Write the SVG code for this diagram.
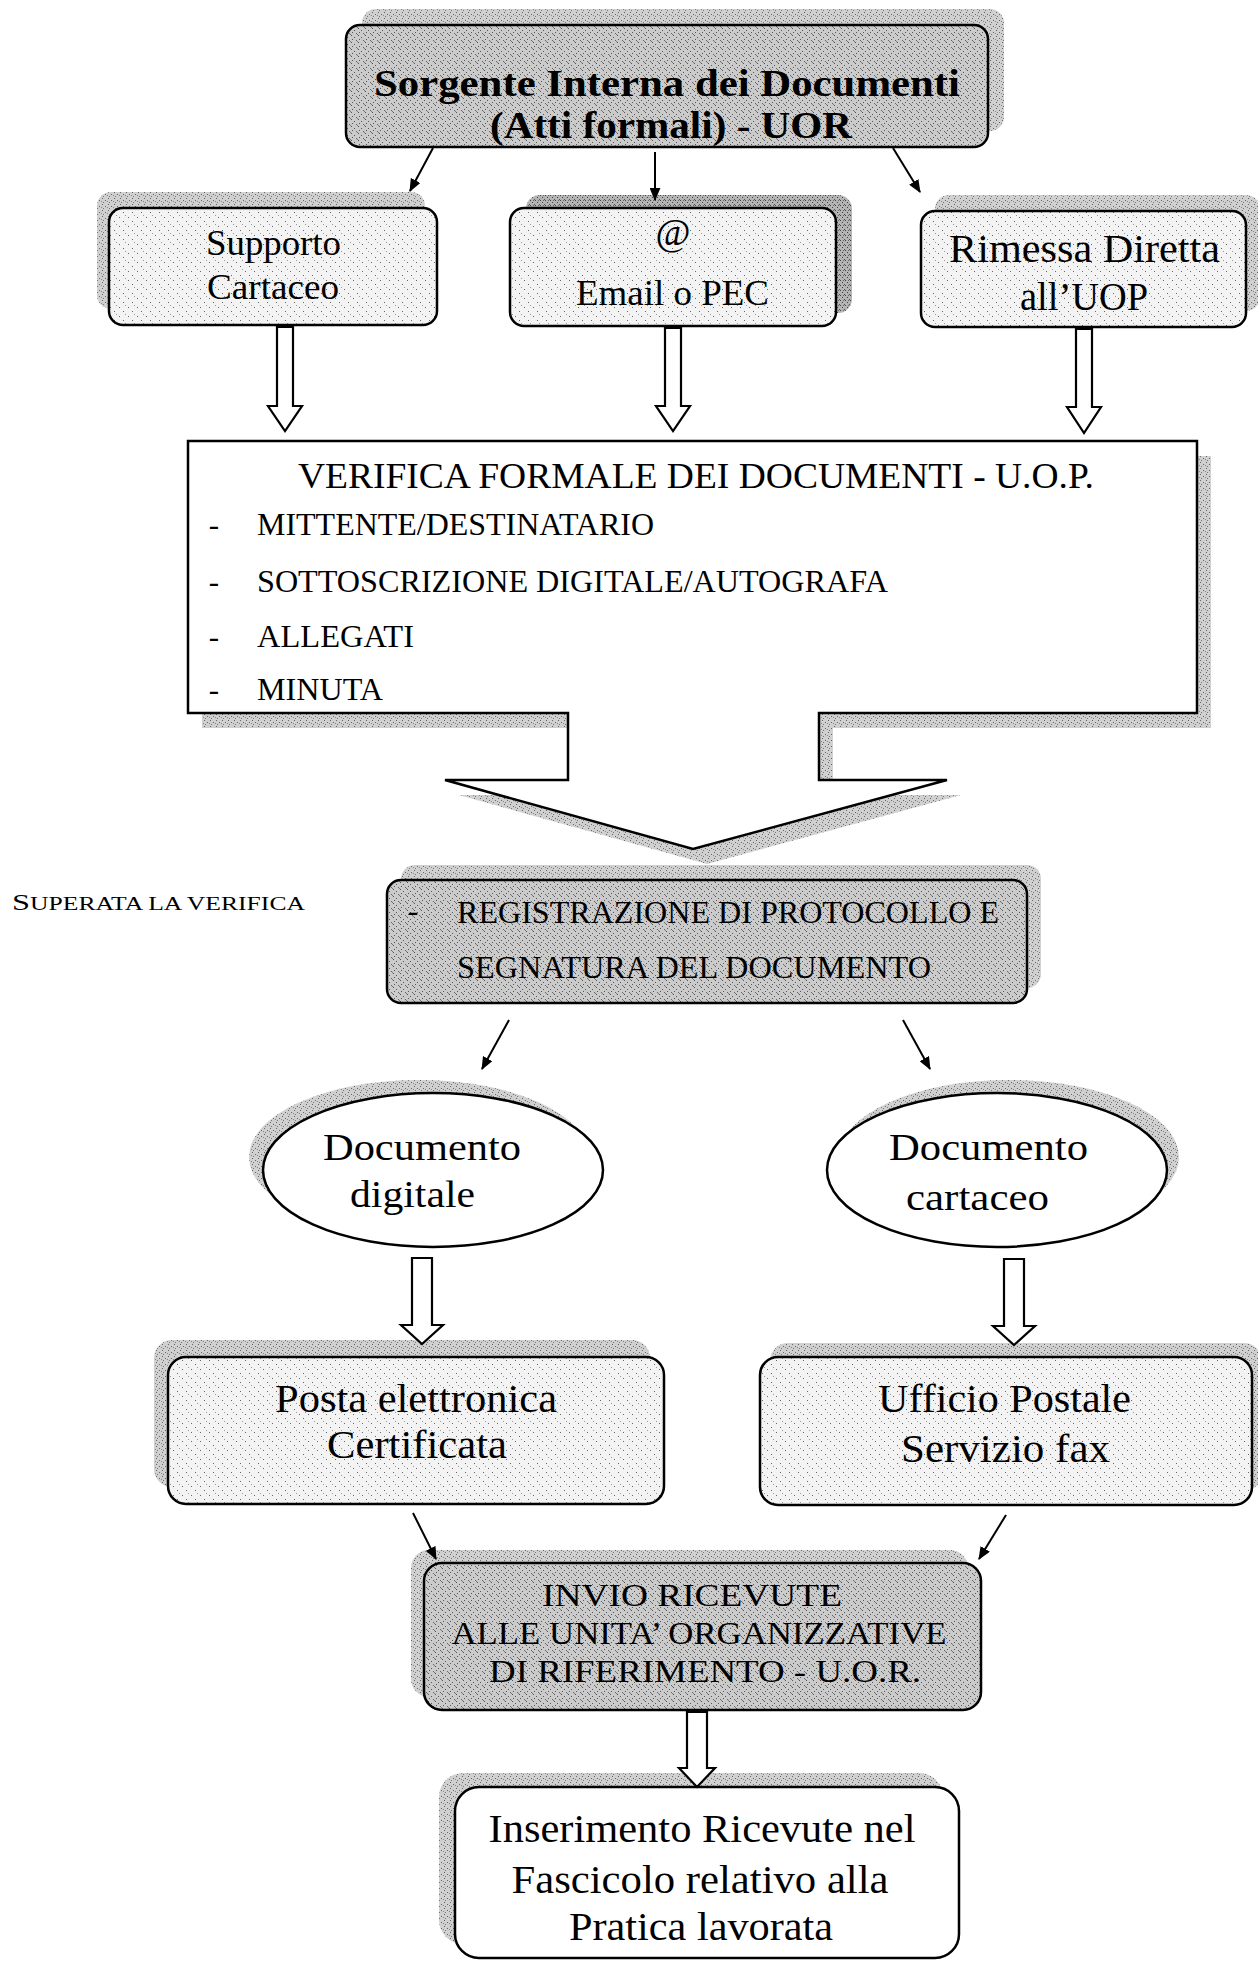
<svg xmlns="http://www.w3.org/2000/svg" width="1258" height="1967" viewBox="0 0 1258 1967">
<style>
.t{font-family:"Liberation Serif","Times New Roman",serif;fill:#000}
.b{font-weight:bold}
.box{stroke:#000;stroke-width:2.5}
.blk{fill:#fff;stroke:#000;stroke-width:2.2;stroke-linejoin:miter}
.ln{stroke:#000;stroke-width:2;fill:none;marker-end:url(#ah)}
</style>
<defs>
<pattern id="pd" width="7" height="7" patternUnits="userSpaceOnUse">
<rect width="7" height="7" fill="#cbcbcb"/>
<rect x="1" y="0" width="1" height="1" fill="#555"/>
<rect x="4" y="2" width="1" height="1" fill="#555"/>
<rect x="2" y="4" width="1" height="1" fill="#555"/>
<rect x="6" y="5" width="1" height="1" fill="#666"/>
<rect x="0" y="6" width="1" height="1" fill="#777"/>
</pattern>
<pattern id="ps" width="6" height="6" patternUnits="userSpaceOnUse">
<rect width="6" height="6" fill="#d0d0d0"/>
<rect x="0" y="0" width="1" height="1" fill="#666"/>
<rect x="3" y="2" width="1" height="1" fill="#666"/>
<rect x="1" y="4" width="1" height="1" fill="#777"/>
<rect x="5" y="3" width="1" height="1" fill="#888"/>
</pattern>
<pattern id="psd" width="5" height="5" patternUnits="userSpaceOnUse">
<rect width="5" height="5" fill="#b4b4b4"/>
<rect x="0" y="0" width="1" height="1" fill="#444"/>
<rect x="2" y="2" width="1" height="1" fill="#444"/>
<rect x="4" y="4" width="1" height="1" fill="#555"/>
<rect x="3" y="0" width="1" height="1" fill="#666"/>
</pattern>
<pattern id="pl" width="9" height="9" patternUnits="userSpaceOnUse">
<rect width="9" height="9" fill="#f3f3f3"/>
<rect x="2" y="1" width="1" height="1" fill="#666"/>
<rect x="6" y="5" width="1" height="1" fill="#666"/>
<rect x="8" y="8" width="1" height="1" fill="#999"/>
</pattern>
<marker id="ah" viewBox="0 0 12 10" refX="11" refY="5" markerWidth="13" markerHeight="11" markerUnits="userSpaceOnUse" orient="auto">
<path d="M0,0 L12,5 L0,10 z" fill="#000"/>
</marker>
</defs>

<g id="n-sorgente">
<rect x="362" y="9" width="642" height="122" rx="14" fill="url(#ps)"/>
<rect class="box" x="346" y="25" width="642" height="122" rx="14" fill="url(#pd)"/>
<text class="t b" x="667" y="96" font-size="38" text-anchor="middle" textLength="586" lengthAdjust="spacingAndGlyphs">Sorgente Interna dei Documenti</text>
<text class="t b" x="671" y="138" font-size="38" text-anchor="middle" textLength="362" lengthAdjust="spacingAndGlyphs">(Atti formali) - UOR</text>
</g>

<g id="n-supporto">
<rect x="97" y="192" width="328" height="117" rx="14" fill="url(#ps)"/>
<rect class="box" x="109" y="208" width="328" height="117" rx="14" fill="url(#pl)"/>
<text class="t" x="273.5" y="255" font-size="36" text-anchor="middle" textLength="135" lengthAdjust="spacingAndGlyphs">Supporto</text>
<text class="t" x="273" y="299" font-size="36" text-anchor="middle" textLength="132" lengthAdjust="spacingAndGlyphs">Cartaceo</text>
</g>

<g id="n-email">
<rect x="526" y="195" width="326" height="118" rx="14" fill="url(#psd)"/>
<rect class="box" x="510" y="208" width="326" height="118" rx="14" fill="url(#pl)"/>
<text class="t" x="673" y="245" font-size="38" text-anchor="middle">@</text>
<text class="t" x="672.5" y="305" font-size="36" text-anchor="middle" textLength="193" lengthAdjust="spacingAndGlyphs">Email o PEC</text>
</g>

<g id="n-rimessa">
<rect x="935" y="195" width="325" height="116" rx="14" fill="url(#ps)"/>
<rect class="box" x="921" y="211" width="325" height="116" rx="14" fill="url(#pl)"/>
<text class="t" x="1084.5" y="262" font-size="40" text-anchor="middle" textLength="271" lengthAdjust="spacingAndGlyphs">Rimessa Diretta</text>
<text class="t" x="1084" y="310" font-size="40" text-anchor="middle" textLength="128" lengthAdjust="spacingAndGlyphs">all’UOP</text>
</g>

<g id="n-verifica">
<path d="M202,456 H1211 V728 H833 V795 H961 L707,864 L459,795 H582 V728 H202 Z" fill="url(#ps)"/>
<path class="box" d="M188,441 H1197 V713 H819 V780 H947 L693,849 L445,780 H568 V713 H188 Z" fill="#fff"/>
<text class="t" x="696" y="488" font-size="36" text-anchor="middle" textLength="796" lengthAdjust="spacingAndGlyphs">VERIFICA FORMALE DEI DOCUMENTI - U.O.P.</text>
<text class="t" x="214" y="535" font-size="31" text-anchor="middle">-</text>
<text class="t" x="257" y="535" font-size="31" textLength="397" lengthAdjust="spacingAndGlyphs">MITTENTE/DESTINATARIO</text>
<text class="t" x="214" y="592" font-size="31" text-anchor="middle">-</text>
<text class="t" x="257" y="592" font-size="31" textLength="631" lengthAdjust="spacingAndGlyphs">SOTTOSCRIZIONE DIGITALE/AUTOGRAFA</text>
<text class="t" x="214" y="647" font-size="31" text-anchor="middle">-</text>
<text class="t" x="257" y="647" font-size="31" textLength="157" lengthAdjust="spacingAndGlyphs">ALLEGATI</text>
<text class="t" x="214" y="700" font-size="31" text-anchor="middle">-</text>
<text class="t" x="257" y="700" font-size="31" textLength="126" lengthAdjust="spacingAndGlyphs">MINUTA</text>
</g>

<g id="n-superata">
<text class="t" x="12" y="910" font-size="19" textLength="293" lengthAdjust="spacingAndGlyphs"><tspan font-size="24">S</tspan>UPERATA LA VERIFICA</text>
</g>

<g id="n-registrazione">
<rect x="401" y="865" width="640" height="123" rx="14" fill="url(#ps)"/>
<rect class="box" x="387" y="880" width="640" height="123" rx="14" fill="url(#pd)"/>
<text class="t" x="413" y="921" font-size="32" text-anchor="middle">-</text>
<text class="t" x="457" y="923" font-size="32" textLength="542" lengthAdjust="spacingAndGlyphs">REGISTRAZIONE DI PROTOCOLLO E</text>
<text class="t" x="457" y="978" font-size="32" textLength="474" lengthAdjust="spacingAndGlyphs">SEGNATURA DEL DOCUMENTO</text>
</g>

<g id="n-digitale">
<ellipse cx="419" cy="1157" rx="170" ry="77" fill="url(#ps)"/>
<ellipse class="box" cx="433" cy="1170" rx="170" ry="77" fill="#fff"/>
<text class="t" x="422" y="1160" font-size="38" text-anchor="middle" textLength="198" lengthAdjust="spacingAndGlyphs">Documento</text>
<text class="t" x="412.5" y="1207" font-size="38" text-anchor="middle" textLength="125" lengthAdjust="spacingAndGlyphs">digitale</text>
</g>

<g id="n-cartaceo">
<ellipse cx="1009" cy="1157" rx="170" ry="77" fill="url(#ps)"/>
<ellipse class="box" cx="997" cy="1170" rx="170" ry="77" fill="#fff"/>
<text class="t" x="988.5" y="1160" font-size="38" text-anchor="middle" textLength="199" lengthAdjust="spacingAndGlyphs">Documento</text>
<text class="t" x="977.5" y="1210" font-size="38" text-anchor="middle" textLength="143" lengthAdjust="spacingAndGlyphs">cartaceo</text>
</g>

<g id="n-posta">
<rect x="154" y="1340" width="496" height="147" rx="18" fill="url(#ps)"/>
<rect class="box" x="168" y="1357" width="496" height="147" rx="18" fill="url(#pl)"/>
<text class="t" x="416" y="1412" font-size="40" text-anchor="middle" textLength="282" lengthAdjust="spacingAndGlyphs">Posta elettronica</text>
<text class="t" x="417" y="1458" font-size="40" text-anchor="middle" textLength="180" lengthAdjust="spacingAndGlyphs">Certificata</text>
</g>

<g id="n-ufficio">
<rect x="770" y="1343" width="492" height="148" rx="18" fill="url(#ps)"/>
<rect class="box" x="760" y="1357" width="492" height="148" rx="18" fill="url(#pl)"/>
<text class="t" x="1004.5" y="1412" font-size="40" text-anchor="middle" textLength="253" lengthAdjust="spacingAndGlyphs">Ufficio Postale</text>
<text class="t" x="1005.5" y="1462" font-size="40" text-anchor="middle" textLength="209" lengthAdjust="spacingAndGlyphs">Servizio fax</text>
</g>

<g id="n-invio">
<rect x="411" y="1550" width="557" height="147" rx="18" fill="url(#ps)"/>
<rect class="box" x="424" y="1563" width="557" height="147" rx="18" fill="url(#pd)"/>
<text class="t" x="692" y="1606" font-size="32" text-anchor="middle" textLength="300" lengthAdjust="spacingAndGlyphs">INVIO RICEVUTE</text>
<text class="t" x="699" y="1644" font-size="32" text-anchor="middle" textLength="495" lengthAdjust="spacingAndGlyphs">ALLE UNITA’ ORGANIZZATIVE</text>
<text class="t" x="705" y="1682" font-size="32" text-anchor="middle" textLength="432" lengthAdjust="spacingAndGlyphs">DI RIFERIMENTO - U.O.R.</text>
</g>

<g id="n-inserimento">
<rect x="439" y="1773" width="504" height="171" rx="24" fill="url(#ps)"/>
<rect class="box" x="455" y="1787" width="504" height="171" rx="24" fill="#fff"/>
<text class="t" x="702" y="1842" font-size="40" text-anchor="middle" textLength="427" lengthAdjust="spacingAndGlyphs">Inserimento Ricevute nel</text>
<text class="t" x="700" y="1893" font-size="40" text-anchor="middle" textLength="377" lengthAdjust="spacingAndGlyphs">Fascicolo relativo alla</text>
<text class="t" x="701" y="1940" font-size="40" text-anchor="middle" textLength="264" lengthAdjust="spacingAndGlyphs">Pratica lavorata</text>
</g>

<g id="connectors">
<line class="ln" x1="433" y1="148" x2="410" y2="191"/>
<line class="ln" x1="655" y1="152" x2="655" y2="200"/>
<line class="ln" x1="893" y1="148" x2="920" y2="192"/>
<polygon class="blk" points="277,327 293,327 293,406 302,406 285,431 268,406 277,406"/>
<polygon class="blk" points="665,328 681,328 681,406 690,406 673,431 656,406 665,406"/>
<polygon class="blk" points="1076,329 1092,329 1092,407 1101,407 1084,433 1067,407 1076,407"/>
<line class="ln" x1="509" y1="1020" x2="482" y2="1069"/>
<line class="ln" x1="903" y1="1020" x2="930" y2="1069"/>
<polygon class="blk" points="412,1258 432,1258 432,1325 443,1325 422,1344 401,1325 412,1325"/>
<polygon class="blk" points="1004,1259 1024,1259 1024,1326 1035,1326 1014,1345 993,1326 1004,1326"/>
<line class="ln" x1="413" y1="1513" x2="436" y2="1559"/>
<line class="ln" x1="1006" y1="1515" x2="979" y2="1559"/>
<polygon class="blk" points="687,1712 707,1712 707,1768 715,1768 697,1787 679,1768 687,1768"/>
</g>
</svg>
